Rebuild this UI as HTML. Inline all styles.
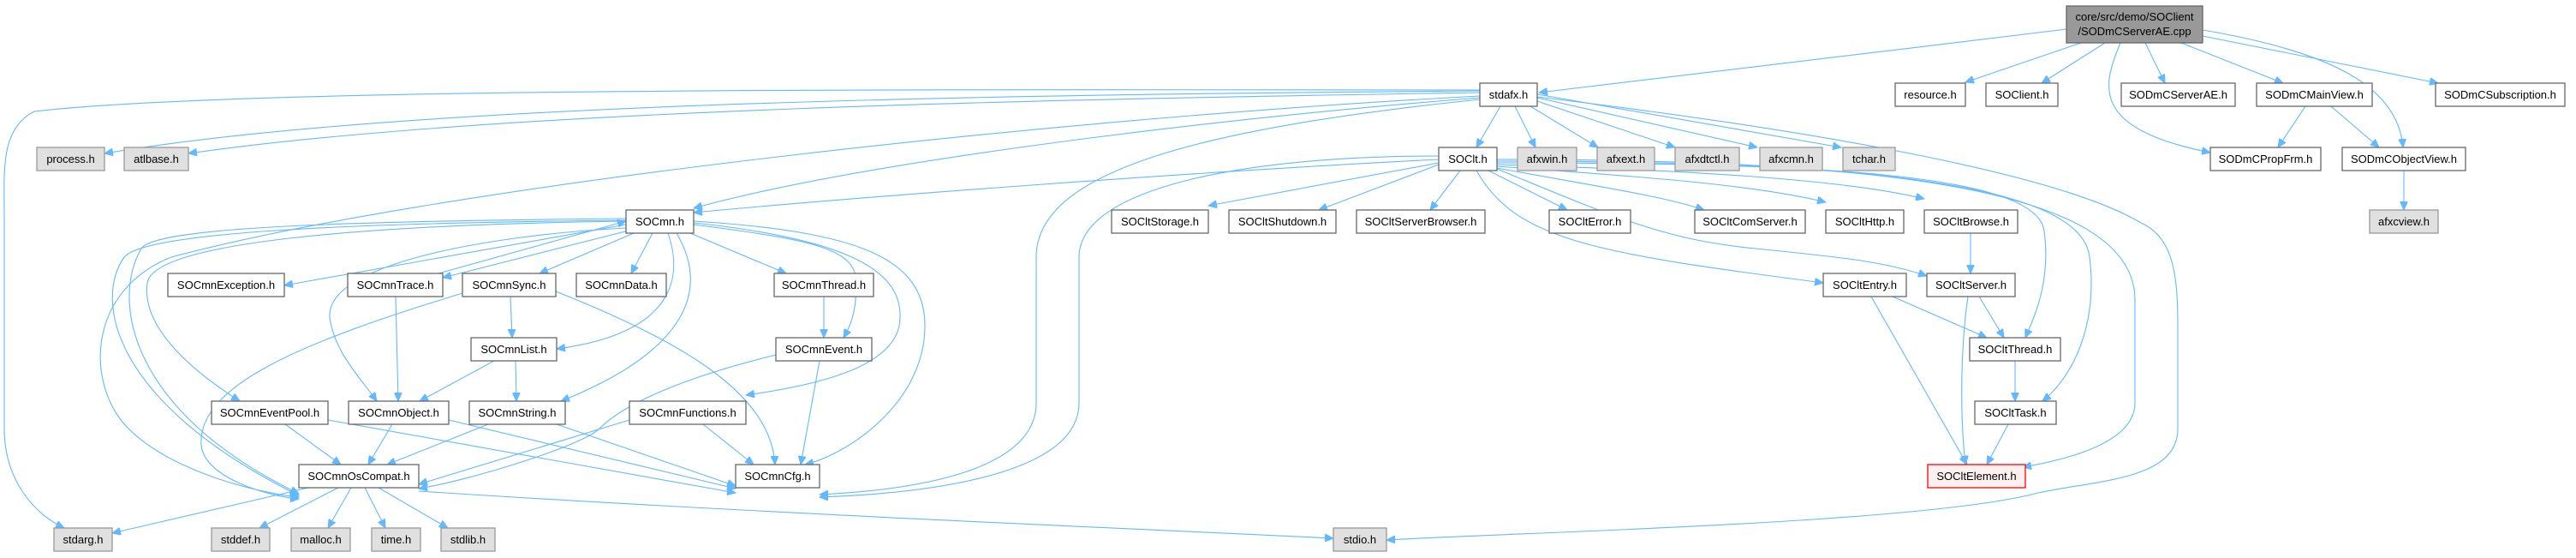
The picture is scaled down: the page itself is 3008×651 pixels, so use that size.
<!DOCTYPE html>
<html><head><meta charset="utf-8"><style>
html,body{margin:0;padding:0;background:#fff;}
svg{display:block;}
text{font-family:"Liberation Sans",Arial,sans-serif;font-size:13px;fill:#000;}
.e{fill:none;stroke:#63b8ff;stroke-width:1.1;marker-end:url(#a);}
.n{fill:#fff;stroke:#666;stroke-width:1.3;}
.g{fill:#e0e0e0;stroke:#999;stroke-width:1.3;}
</style></head><body>
<svg width="3008" height="651" viewBox="0 0 3008 651" xmlns="http://www.w3.org/2000/svg">
<defs><marker id="a" markerUnits="userSpaceOnUse" markerWidth="11" markerHeight="9" refX="10" refY="4.5" orient="auto"><path d="M0,0 L10,4.5 L0,9 z" fill="#63b8ff" stroke="#63b8ff"/></marker></defs>
<g>
<path class="e" d="M2413,34 C2200,60 1950,90 1797,108"/>
<path class="e" d="M2430,50 L2295,96"/>
<path class="e" d="M2458,50 L2384,97"/>
<path class="e" d="M2505,50 L2528,97"/>
<path class="e" d="M2547,50 L2666,97"/>
<path class="e" d="M2572,42 L2847,97"/>
<path class="e" d="M2476,50 C2455,100 2440,150 2581,178"/>
<path class="e" d="M2572,35 C2720,60 2800,100 2806,172"/>
<path class="e" d="M2692,124 L2660,172"/>
<path class="e" d="M2722,124 L2778,172"/>
<path class="e" d="M2807,199 L2807,245"/>
<path class="e" d="M1752,124 L1724,172"/>
<path class="e" d="M1769,124 L1793,172"/>
<path class="e" d="M1787,124 L1866,172"/>
<path class="e" d="M1795,118 L1956,172"/>
<path class="e" d="M1795,114 L2052,172"/>
<path class="e" d="M1795,110 L2150,172"/>
<path class="e" d="M1728,106 C1300,110 500,115 122,179"/>
<path class="e" d="M1728,108 C1300,115 600,125 220,179"/>
<path class="e" d="M1728,105 C1200,105 300,100 40,130 C0,150 5,200 5,250 L5,500 C5,560 40,600 75,616"/>
<path class="e" d="M1728,114 C1400,140 1000,190 810,243"/>
<path class="e" d="M1728,112 C1200,140 500,220 200,300 C100,340 100,450 150,500 C200,550 300,575 349,580"/>
<path class="e" d="M1728,116 C1400,150 1210,200 1210,300 L1210,470 C1210,540 1100,570 957,577"/>
<path class="e" d="M1795,113 C2100,150 2400,200 2500,260 C2545,280 2543,340 2543,400 L2543,500 C2543,560 2450,560 2380,575 C2250,610 1800,620 1619,630"/>
<path class="e" d="M1680,186 C1400,200 1000,230 810,248"/>
<path class="e" d="M1680,182 C1450,182 1260,220 1260,300 L1260,470 C1260,550 1100,575 957,580"/>
<path class="e" d="M1680,190 L1411,240"/>
<path class="e" d="M1680,192 L1540,245"/>
<path class="e" d="M1705,199 L1670,245"/>
<path class="e" d="M1738,199 L1830,245"/>
<path class="e" d="M1748,196 C1850,215 1940,228 1990,245"/>
<path class="e" d="M1748,194 C1900,205 2050,215 2132,236"/>
<path class="e" d="M1748,192 C1950,198 2150,208 2247,232"/>
<path class="e" d="M1724,199 C1770,280 1860,295 2129,330"/>
<path class="e" d="M1748,197 C1900,260 1950,280 2050,290 C2150,300 2200,305 2250,322"/>
<path class="e" d="M1748,190 C2100,190 2380,200 2387,270 C2395,330 2375,370 2365,394"/>
<path class="e" d="M1748,188 C2150,188 2430,210 2440,300 C2450,380 2420,440 2385,468"/>
<path class="e" d="M1748,186 C2200,186 2493,220 2493,350 L2493,470 C2493,515 2420,535 2362,545"/>
<path class="e" d="M2301,272 L2301,319"/>
<path class="e" d="M2210,346 L2320,394"/>
<path class="e" d="M2185,346 L2297,542"/>
<path class="e" d="M2311,346 L2340,394"/>
<path class="e" d="M2298,346 C2290,400 2288,480 2295,542"/>
<path class="e" d="M2353,421 L2353,468"/>
<path class="e" d="M2345,495 L2320,542"/>
<path class="e" d="M731,262 L332,333"/>
<path class="e" d="M738,268 L517,324"/>
<path class="e" d="M512,319 L731,258"/>
<path class="e" d="M740,272 L630,319"/>
<path class="e" d="M762,272 L737,319"/>
<path class="e" d="M806,272 L918,319"/>
<path class="e" d="M780,272 C800,330 780,390 650,407"/>
<path class="e" d="M790,272 C830,340 800,410 655,468"/>
<path class="e" d="M731,266 C560,275 380,310 385,370 C390,410 420,440 440,468"/>
<path class="e" d="M731,258 C450,262 180,280 172,330 C165,380 220,430 280,468"/>
<path class="e" d="M731,257 C420,260 170,270 145,300 C110,350 130,470 349,578"/>
<path class="e" d="M731,255 C400,258 180,265 165,290 C130,350 150,480 349,576"/>
<path class="e" d="M810,262 C950,280 1000,290 1000,330 C1000,370 990,385 985,394"/>
<path class="e" d="M810,260 C1000,280 1060,320 1050,380 C1040,430 950,450 871,461"/>
<path class="e" d="M810,258 C1000,270 1080,300 1080,380 C1080,470 990,530 940,542"/>
<path class="e" d="M596,346 L598,394"/>
<path class="e" d="M540,342 C350,400 230,450 235,520 C240,560 320,580 349,582"/>
<path class="e" d="M649,340 C800,400 900,460 905,542"/>
<path class="e" d="M462,346 L465,468"/>
<path class="e" d="M577,421 L490,468"/>
<path class="e" d="M602,421 L603,468"/>
<path class="e" d="M962,346 L962,394"/>
<path class="e" d="M906,414 C800,440 730,470 700,500 C680,520 550,560 489,570"/>
<path class="e" d="M957,421 L935,542"/>
<path class="e" d="M333,495 L398,542"/>
<path class="e" d="M383,490 L859,575"/>
<path class="e" d="M458,495 L430,542"/>
<path class="e" d="M524,490 L859,570"/>
<path class="e" d="M570,495 L452,542"/>
<path class="e" d="M650,495 L859,567"/>
<path class="e" d="M735,490 L489,565"/>
<path class="e" d="M821,495 L880,542"/>
<path class="e" d="M360,569 L131,622"/>
<path class="e" d="M395,569 L303,616"/>
<path class="e" d="M410,569 L383,616"/>
<path class="e" d="M426,569 L450,616"/>
<path class="e" d="M442,569 L523,616"/>
<path class="e" d="M489,573 C900,600 1400,620 1557,628"/>
</g>
<g text-anchor="middle">
<rect x="2413" y="7" width="159" height="43" fill="#999" stroke="#666" stroke-width="1.3"/>
<text x="2492.5" y="24">core/src/demo/SOClient</text><text x="2492.5" y="41">/SODmCServerAE.cpp</text>

<rect class="n" x="1728" y="97" width="67" height="27"/><text x="1761.5" y="115">stdafx.h</text>
<rect class="n" x="2213" y="97" width="82" height="27"/><text x="2254" y="115">resource.h</text>
<rect class="n" x="2319" y="97" width="84" height="27"/><text x="2361" y="115">SOClient.h</text>
<rect class="n" x="2477" y="97" width="133" height="27"/><text x="2543.5" y="115">SODmCServerAE.h</text>
<rect class="n" x="2635" y="97" width="135" height="27"/><text x="2702.5" y="115">SODmCMainView.h</text>
<rect class="n" x="2844" y="97" width="151" height="27"/><text x="2919.5" y="115">SODmCSubscription.h</text>

<rect class="g" x="43" y="172" width="79" height="27"/><text x="82.5" y="190">process.h</text>
<rect class="g" x="145" y="172" width="75" height="27"/><text x="182.5" y="190">atlbase.h</text>
<rect class="n" x="1680" y="172" width="68" height="27"/><text x="1714" y="190">SOClt.h</text>
<rect class="g" x="1772" y="172" width="69" height="27"/><text x="1806.5" y="190">afxwin.h</text>
<rect class="g" x="1865" y="172" width="67" height="27"/><text x="1898.5" y="190">afxext.h</text>
<rect class="g" x="1956" y="172" width="75" height="27"/><text x="1993.5" y="190">afxdtctl.h</text>
<rect class="g" x="2055" y="172" width="73" height="27"/><text x="2091.5" y="190">afxcmn.h</text>
<rect class="g" x="2152" y="172" width="61" height="27"/><text x="2182.5" y="190">tchar.h</text>
<rect class="n" x="2581" y="172" width="129" height="27"/><text x="2645.5" y="190">SODmCPropFrm.h</text>
<rect class="n" x="2735" y="172" width="144" height="27"/><text x="2807" y="190">SODmCObjectView.h</text>

<rect class="n" x="731" y="245" width="79" height="27"/><text x="770.5" y="263">SOCmn.h</text>
<rect class="n" x="1298" y="245" width="113" height="27"/><text x="1354.5" y="263">SOCltStorage.h</text>
<rect class="n" x="1435" y="245" width="125" height="27"/><text x="1497.5" y="263">SOCltShutdown.h</text>
<rect class="n" x="1584" y="245" width="150" height="27"/><text x="1659" y="263">SOCltServerBrowser.h</text>
<rect class="n" x="1809" y="245" width="95" height="27"/><text x="1856.5" y="263">SOCltError.h</text>
<rect class="n" x="1979" y="245" width="129" height="27"/><text x="2043.5" y="263">SOCltComServer.h</text>
<rect class="n" x="2132" y="245" width="91" height="27"/><text x="2177.5" y="263">SOCltHttp.h</text>
<rect class="n" x="2247" y="245" width="109" height="27"/><text x="2301.5" y="263">SOCltBrowse.h</text>
<rect class="g" x="2767" y="245" width="80" height="27"/><text x="2807" y="263">afxcview.h</text>

<rect class="n" x="196" y="319" width="136" height="27"/><text x="264" y="337">SOCmnException.h</text>
<rect class="n" x="406" y="319" width="111" height="27"/><text x="461.5" y="337">SOCmnTrace.h</text>
<rect class="n" x="540" y="319" width="109" height="27"/><text x="594.5" y="337">SOCmnSync.h</text>
<rect class="n" x="673" y="319" width="105" height="27"/><text x="725.5" y="337">SOCmnData.h</text>
<rect class="n" x="904" y="319" width="116" height="27"/><text x="962" y="337">SOCmnThread.h</text>
<rect class="n" x="2129" y="319" width="97" height="27"/><text x="2177.5" y="337">SOCltEntry.h</text>
<rect class="n" x="2250" y="319" width="103" height="27"/><text x="2301.5" y="337">SOCltServer.h</text>

<rect class="n" x="550" y="394" width="100" height="27"/><text x="600" y="412">SOCmnList.h</text>
<rect class="n" x="906" y="394" width="112" height="27"/><text x="962" y="412">SOCmnEvent.h</text>
<rect class="n" x="2300" y="394" width="106" height="27"/><text x="2353" y="412">SOCltThread.h</text>

<rect class="n" x="247" y="468" width="136" height="27"/><text x="315" y="486">SOCmnEventPool.h</text>
<rect class="n" x="407" y="468" width="117" height="27"/><text x="465.5" y="486">SOCmnObject.h</text>
<rect class="n" x="548" y="468" width="112" height="27"/><text x="604" y="486">SOCmnString.h</text>
<rect class="n" x="735" y="468" width="136" height="27"/><text x="803" y="486">SOCmnFunctions.h</text>
<rect class="n" x="2306" y="468" width="95" height="27"/><text x="2353.5" y="486">SOCltTask.h</text>

<rect class="n" x="349" y="542" width="140" height="27"/><text x="419" y="560">SOCmnOsCompat.h</text>
<rect class="n" x="859" y="542" width="98" height="27"/><text x="908" y="560">SOCmnCfg.h</text>
<rect x="2251" y="542" width="114" height="27" fill="#fff0f0" stroke="#ff0000" stroke-width="1.3"/><text x="2308" y="560">SOCltElement.h</text>

<rect class="g" x="63" y="616" width="68" height="27"/><text x="97" y="634">stdarg.h</text>
<rect class="g" x="247" y="616" width="68" height="27"/><text x="281" y="634">stddef.h</text>
<rect class="g" x="340" y="616" width="69" height="27"/><text x="374.5" y="634">malloc.h</text>
<rect class="g" x="434" y="616" width="57" height="27"/><text x="462.5" y="634">time.h</text>
<rect class="g" x="515" y="616" width="63" height="27"/><text x="546.5" y="634">stdlib.h</text>
<rect class="g" x="1557" y="616" width="62" height="27"/><text x="1588" y="634">stdio.h</text>
</g>
</svg>
</body></html>
